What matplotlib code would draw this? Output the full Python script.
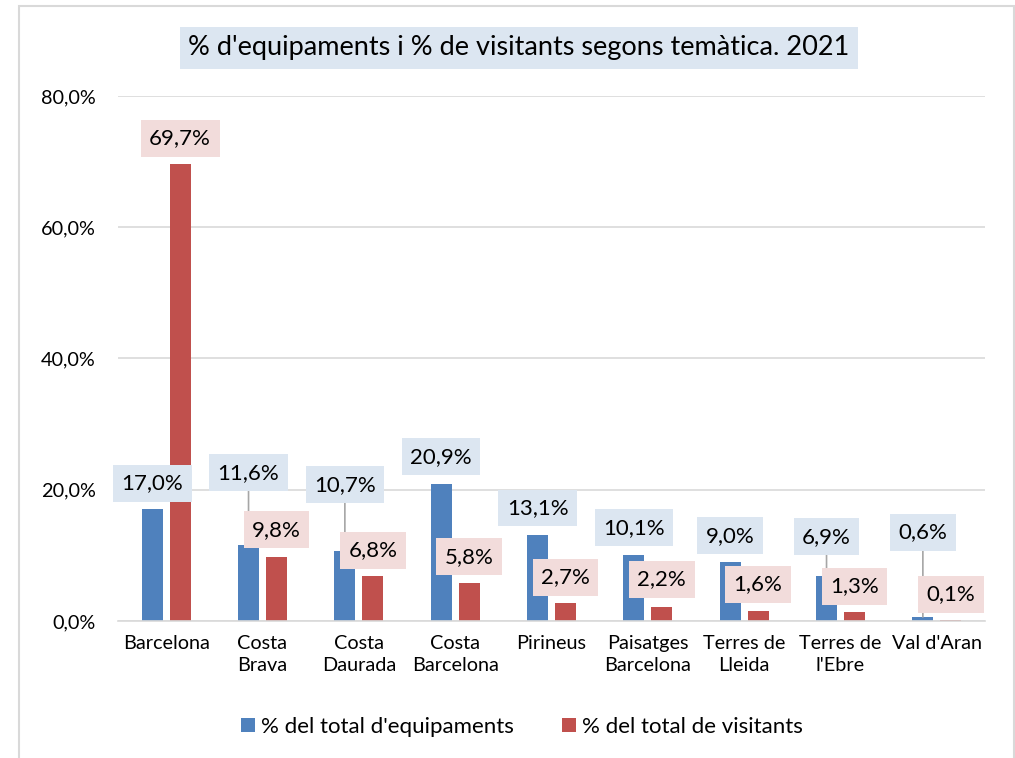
import matplotlib.pyplot as plt
import numpy as np
from matplotlib.patches import Rectangle

plt.rcParams['font.family'] = ['Lato', 'DejaVu Sans']

categories = ["Barcelona", "Costa\nBrava", "Costa\nDaurada", "Costa\nBarcelona", "Pirineus",
              "Paisatges\nBarcelona", "Terres de\nLleida", "Terres de\nl'Ebre", "Val d'Aran"]
equipaments = [17.0, 11.6, 10.7, 20.9, 13.1, 10.1, 9.0, 6.9, 0.6]
visitants = [69.7, 9.8, 6.8, 5.8, 2.7, 2.2, 1.6, 1.3, 0.1]
series_names = ["% del total d'equipaments", "% del total de visitants"]
title = "% d'equipaments i % de visitants segons temàtica. 2021"
yticks = [0, 20, 40, 60, 80]

# label offsets above bar tops (pixels), some labels were dragged higher
blue_lift = [26, 72, 66, 27, 27, 27, 26, 39, 85]
red_lift = [25, 27, 26, 26, 26, 27, 26, 26, 26]

blue = "#4f81bd"
red = "#c0504d"
blue_box = "#dce6f1"
red_box = "#f2dcdb"


def fmt(v):
    return ("%.1f%%" % v).replace(".", ",")


fig = plt.figure(figsize=(10.15, 7.58), dpi=100)
ax = fig.add_axes([118 / 1015, 1 - 621 / 758, 867 / 1015, 525 / 758])

x = np.arange(len(categories))
w = 0.22
off = 0.145
ax.bar(x - off, equipaments, w, color=blue, label=series_names[0], zorder=2)
ax.bar(x + off, visitants, w, color=red, label=series_names[1], zorder=2)

ax.set_xlim(-0.5, len(categories) - 0.5)
ax.set_ylim(0, 80)
ax.set_yticks(yticks)
ax.set_yticklabels([fmt(v) for v in yticks])
ax.set_xticks(x)
ax.set_xticklabels(categories, fontsize=14.3, linespacing=1.4, va="top")
ax.tick_params(axis="x", length=0, pad=10)
ax.tick_params(axis="y", length=0, pad=16, labelsize=14.3)
ax.grid(axis="y", color="#d9d9d9", linewidth=1.2, zorder=0)
for s in ["top", "right", "left"]:
    ax.spines[s].set_visible(False)
ax.spines["bottom"].set_color("#d9d9d9")
ax.spines["bottom"].set_linewidth(1.2)

for i in range(len(categories)):
    for vals, lift, dx, fc in [(equipaments, blue_lift, -off, blue_box), (visitants, red_lift, off, red_box)]:
        ax.annotate(fmt(vals[i]), xy=(x[i] + dx, vals[i]), xytext=(0, lift[i]),
                    textcoords="offset pixels", ha="center", va="center", fontsize=16,
                    bbox=dict(boxstyle="square,pad=0.38", fc=fc, ec="none"),
                    arrowprops=dict(arrowstyle="-", color="#a6a6a6", lw=1.2, shrinkA=0, shrinkB=0)
                    if lift[i] > 35 else None,
                    zorder=4)

fig.text(519 / 1015, 1 - 48 / 758, title, ha="center", va="center", fontsize=19.5,
         bbox=dict(boxstyle="square,pad=0.3", fc=blue_box, ec="none"))

fig.legend(loc="center", bbox_to_anchor=(522 / 1015, 1 - 727 / 758), ncol=2, frameon=False,
           fontsize=16, handlelength=0.62, handleheight=0.62, handletextpad=0.25, columnspacing=2.2)

fig.patches.append(Rectangle((19 / 1015, -0.05), (1014 - 19) / 1015, 1.05 - 6 / 758,
                             transform=fig.transFigure, fill=False, ec="#d9d9d9", lw=1.5))

fig.savefig("out.png", dpi=100)
